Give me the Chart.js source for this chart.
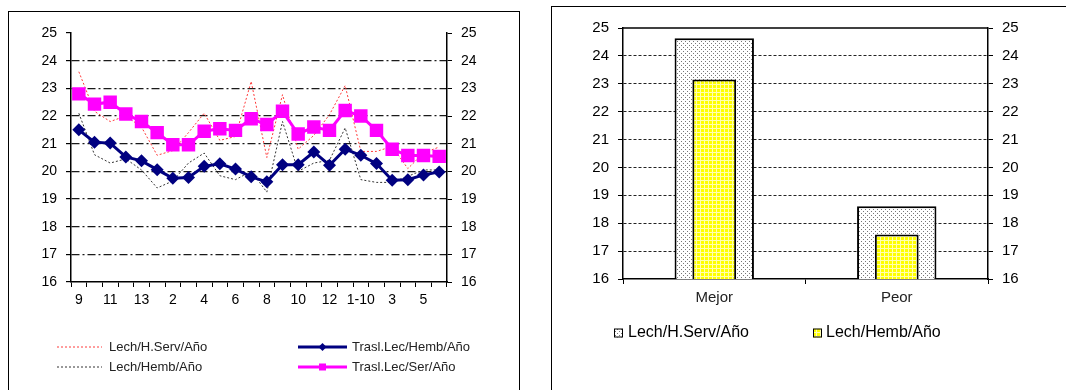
<!DOCTYPE html>
<html>
<head>
<meta charset="utf-8">
<script src="https://cdn.jsdelivr.net/npm/chart.js@4.4.0/dist/chart.umd.min.js"></script>
<style>
  body { margin: 0; background: #fff; width: 1066px; height: 390px; overflow: hidden; position: relative; }
  .panel { position: absolute; border: 1px solid #000; }
  #leftPanel { left: 8px; top: 11px; width: 510px; height: 420px; }
  #rightPanel { left: 551px; top: 6px; width: 600px; height: 420px; }
  canvas { position: absolute; top: 0; }
  #trendChart { left: 0; }
  #compareChart { left: 540px; }
</style>
</head>
<body>
<div class="panel" id="leftPanel"></div>
<div class="panel" id="rightPanel"></div>
<canvas id="trendChart" width="540" height="390"></canvas>
<canvas id="compareChart" width="526" height="390"></canvas>
<script>
// periods (months) on the x axis, only every other one gets a label
const periods = ['9','10','11','12','13','1','2','3','4','5','6','7','8','9','10','11','12','13','1-10','2','3','4','5','6'];

const lechHServ = [23.6, 22.17, 21.8, 22.0, 21.6, 20.58, 20.75, 21.4, 22.1, 21.12, 21.26, 23.25, 20.5, 22.77, 20.8, 21.3, 22.05, 23.1, 20.72, 20.72, 20.9, 20.1, 20.66, 20.88];
const lechHemb = [22.1, 20.6, 20.3, 20.45, 20.05, 19.4, 19.65, 20.3, 20.66, 19.84, 19.7, 20.0, 19.25, 21.8, 20.0, 20.3, 20.4, 21.57, 19.7, 19.6, 19.6, 19.82, 20.05, 20.05];
const traslHemb = [21.5, 21.05, 21.02, 20.52, 20.38, 20.06, 19.75, 19.78, 20.18, 20.27, 20.08, 19.8, 19.62, 20.24, 20.24, 20.7, 20.22, 20.8, 20.58, 20.28, 19.68, 19.7, 19.87, 19.98];
const traslSer = [22.8, 22.43, 22.5, 22.07, 21.8, 21.4, 20.96, 20.96, 21.45, 21.54, 21.48, 21.9, 21.69, 22.17, 21.35, 21.6, 21.48, 22.2, 22.0, 21.48, 20.8, 20.57, 20.57, 20.54];

// best / worst comparison
const groups = ['Mejor', 'Peor'];
const bestWorstHServ = [24.63, 18.61];
const bestWorstHemb = [23.15, 17.6];

const FONT = '"Liberation Sans", Arial, sans-serif';

// small tiles used as bar fills
function makePattern(size, draw) {
    const c = document.createElement('canvas');
    c.width = size; c.height = size;
    draw(c.getContext('2d'));
    return document.createElement('canvas').getContext('2d').createPattern(c, 'repeat');
}
const dotFill = makePattern(4, g => {
    g.fillStyle = '#fff'; g.fillRect(0, 0, 4, 4);
    g.fillStyle = '#777'; g.fillRect(1, 1, 1, 1); g.fillRect(3, 3, 1, 1);
});
const yellowFill = makePattern(4, g => {
    g.fillStyle = '#ffff00'; g.fillRect(0, 0, 4, 4);
    g.fillStyle = '#ffffb0'; g.fillRect(0, 0, 4, 1); g.fillRect(0, 0, 1, 4);
});

// legend drawn by hand so the items sit in fixed columns
const panelLegend = {
    id: 'panelLegend',
    afterDraw(chart, args, opts) {
        if (!opts.items) return;
        const ctx = chart.ctx;
        ctx.save();
        ctx.textBaseline = 'middle';
        opts.items.forEach(item => {
            const ds = chart.data.datasets[item.dataset];
            if (item.kind === 'line') {
                ctx.save();
                ctx.strokeStyle = ds.borderColor;
                ctx.lineWidth = ds.borderWidth;
                ctx.setLineDash(ds.borderDash || []);
                ctx.beginPath();
                ctx.moveTo(item.x1, item.y);
                ctx.lineTo(item.x2, item.y);
                ctx.stroke();
                ctx.restore();
                const mx = (item.x1 + item.x2) / 2;
                ctx.fillStyle = ds.borderColor;
                if (ds.pointStyle === 'rectRot') {
                    ctx.beginPath();
                    ctx.moveTo(mx, item.y - 4); ctx.lineTo(mx + 4, item.y);
                    ctx.lineTo(mx, item.y + 4); ctx.lineTo(mx - 4, item.y);
                    ctx.closePath(); ctx.fill();
                } else if (ds.pointStyle === 'rect') {
                    ctx.fillRect(mx - 3.5, item.y - 3.5, 7, 7);
                }
            } else {
                ctx.fillStyle = ds.backgroundColor;
                ctx.fillRect(item.x1, item.y - 4.5, 9, 9);
                ctx.strokeStyle = '#000';
                ctx.lineWidth = 1;
                ctx.strokeRect(item.x1 + 0.5, item.y - 4, 8, 8);
            }
            ctx.fillStyle = opts.color;
            ctx.font = opts.font;
            ctx.fillText(ds.label, item.tx, item.y);
        });
        ctx.restore();
    }
};

// solid line closing the top of the bar panel
const topFrame = {
    id: 'topFrame',
    beforeDatasetsDraw(chart, args, opts) {
        if (!opts.draw) return;
        const a = chart.chartArea, ctx = chart.ctx;
        ctx.save();
        ctx.strokeStyle = '#000';
        ctx.lineWidth = 1.5;
        ctx.beginPath();
        ctx.moveTo(a.left, a.top);
        ctx.lineTo(a.right, a.top);
        ctx.stroke();
        ctx.restore();
    }
};

Chart.register(panelLegend, topFrame);

function fixWidth(w) { return scale => { scale.width = w; }; }
function fixHeight(h) { return scale => { scale.height = h; }; }

new Chart(document.getElementById('trendChart').getContext('2d'), {
    type: 'line',
    data: {
        labels: periods,
        datasets: [
            { label: 'Lech/H.Serv/Año', data: lechHServ, borderColor: '#ff3a3a', borderWidth: 1, borderDash: [2, 2], pointRadius: 0, order: 2 },
            { label: 'Lech/Hemb/Año', data: lechHemb, borderColor: '#333333', borderWidth: 1, borderDash: [2, 2], pointRadius: 0, order: 3 },
            { label: 'Trasl.Lec/Hemb/Año', data: traslHemb, borderColor: '#000080', backgroundColor: '#000080', borderWidth: 3,
              pointStyle: 'rectRot', pointRadius: 6.5, pointBorderWidth: 0, order: 1 },
            { label: 'Trasl.Lec/Ser/Año', data: traslSer, borderColor: '#ff00ff', backgroundColor: '#ff00ff', borderWidth: 3,
              pointStyle: 'rect', pointRadius: 9.5, pointBorderWidth: 0, order: 0 }
        ]
    },
    options: {
        responsive: false,
        animation: false,
        layout: { padding: { left: 0, right: 53, top: 33, bottom: 78 } },
        elements: { line: { tension: 0 } },
        scales: {
            x: {
                offset: true,
                afterFit: fixHeight(30),
                grid: { offset: true, drawOnChartArea: false, tickLength: 5, tickColor: '#000' },
                border: { color: '#000', width: 1.5 },
                ticks: {
                    autoSkip: false, maxRotation: 0, padding: 5, color: '#000',
                    font: { family: FONT, size: 14 },
                    callback: (v, i) => i % 2 === 0 ? periods[i] : ''
                }
            },
            y: {
                min: 16, max: 25,
                afterFit: fixWidth(71),
                grid: {
                    color: ctx => (ctx.tick && (ctx.tick.value === 25 || ctx.tick.value === 16)) ? 'rgba(0,0,0,0)' : '#1a1a1a',
                    lineWidth: 1.2, tickColor: '#000', tickLength: 5
                },
                border: { color: '#000', width: 1.5, dash: [8, 3, 2, 3] },
                ticks: { stepSize: 1, padding: 9, color: '#000', font: { family: FONT, size: 14 } }
            },
            y2: {
                position: 'right', min: 16, max: 25,
                afterFit: fixWidth(40),
                grid: { drawOnChartArea: false, tickColor: '#000', tickLength: 5 },
                border: { color: '#000', width: 1.5 },
                ticks: { stepSize: 1, padding: 9, color: '#000', font: { family: FONT, size: 14 } }
            }
        },
        plugins: {
            legend: { display: false },
            tooltip: { enabled: false },
            panelLegend: {
                font: '13px ' + FONT, color: '#222',
                items: [
                    { dataset: 0, kind: 'line', x1: 57, x2: 102, tx: 109, y: 347 },
                    { dataset: 1, kind: 'line', x1: 57, x2: 102, tx: 109, y: 367 },
                    { dataset: 2, kind: 'line', x1: 298, x2: 347, tx: 352, y: 347 },
                    { dataset: 3, kind: 'line', x1: 298, x2: 347, tx: 352, y: 367 }
                ]
            }
        }
    }
});

new Chart(document.getElementById('compareChart').getContext('2d'), {
    type: 'bar',
    data: {
        labels: groups,
        datasets: [
            // inner bar first so it is painted over the wider one
            { label: 'Lech/Hemb/Año', data: bestWorstHemb, backgroundColor: yellowFill, borderColor: '#000', borderWidth: 2,
              grouped: false, categoryPercentage: 1, barPercentage: 0.24 },
            { label: 'Lech/H.Serv/Año', data: bestWorstHServ, backgroundColor: dotFill, borderColor: '#000', borderWidth: 2,
              grouped: false, categoryPercentage: 1, barPercentage: 0.435 }
        ]
    },
    options: {
        responsive: false,
        animation: false,
        layout: { padding: { left: 0, right: 38, top: 28, bottom: 81 } },
        scales: {
            x: {
                afterFit: fixHeight(30),
                grid: { offset: true, drawOnChartArea: false, tickLength: 5, tickColor: '#000' },
                border: { color: '#000', width: 1.5 },
                ticks: { padding: 5, color: '#222', font: { family: FONT, size: 15 } }
            },
            y: {
                min: 16, max: 25,
                afterFit: fixWidth(83),
                grid: {
                    color: ctx => (ctx.tick && (ctx.tick.value === 25 || ctx.tick.value === 16)) ? 'rgba(0,0,0,0)' : '#222',
                    tickColor: '#000', tickLength: 5
                },
                border: { color: '#000', width: 1.5, dash: [3, 2] },
                ticks: { stepSize: 1, padding: 9, color: '#000', font: { family: FONT, size: 15 } }
            },
            y2: {
                position: 'right', min: 16, max: 25,
                afterFit: fixWidth(40),
                grid: { drawOnChartArea: false, tickColor: '#000', tickLength: 5 },
                border: { color: '#000', width: 1.5 },
                ticks: { stepSize: 1, padding: 9, color: '#000', font: { family: FONT, size: 15 } }
            }
        },
        plugins: {
            legend: { display: false },
            tooltip: { enabled: false },
            topFrame: { draw: true },
            panelLegend: {
                font: '16px ' + FONT, color: '#000',
                items: [
                    { dataset: 1, kind: 'box', x1: 74, tx: 88, y: 333 },
                    { dataset: 0, kind: 'box', x1: 273, tx: 286, y: 333 }
                ]
            }
        }
    }
});
</script>
</body>
</html>
